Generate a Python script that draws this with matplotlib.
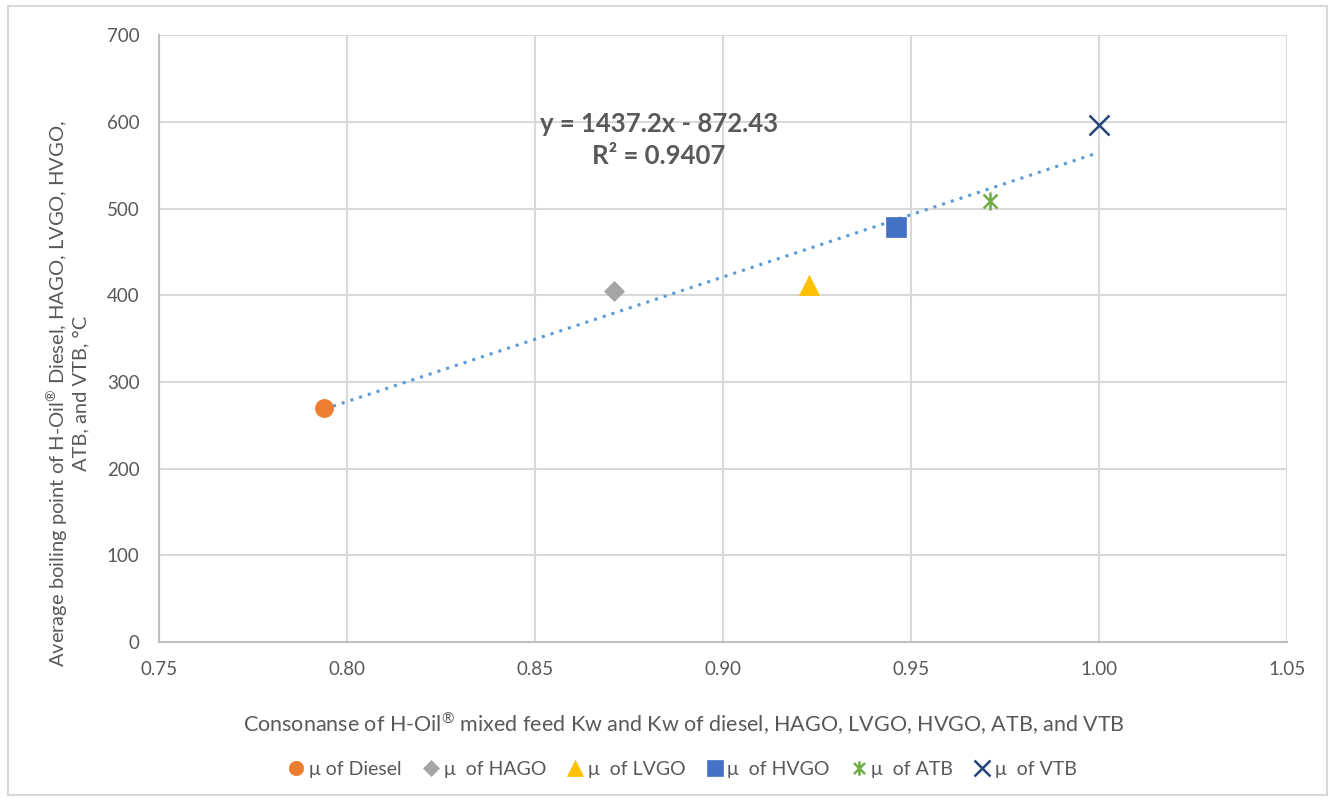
import matplotlib
matplotlib.use("Agg")
import matplotlib.pyplot as plt
import numpy as np
from matplotlib.path import Path
from matplotlib.patches import Rectangle

plt.rcParams['font.family'] = ['Lato', 'DejaVu Sans']
plt.rcParams['mathtext.fontset'] = 'custom'
plt.rcParams['mathtext.rm'] = 'Lato'

# datos: Kw relativo y punto de ebullición medio
etiquetas = ["μ of Diesel", "μ  of HAGO", "μ  of LVGO", "μ  of HVGO", "μ  of ATB", "μ  of VTB"]
kw = [0.794, 0.871, 0.923, 0.946, 0.971, 1.000]
temp = [270, 405, 412, 479, 509, 597]

pendiente = 1437.2
intercepto = -872.43
r2 = 0.9407

colores = ["#ed7d31", "#a5a5a5", "#ffc000", "#4472c4", "#70ad47", "#264478"]
estrella = Path([(-1, -1), (1, 1), (-1, 1), (1, -1), (0, -1.3), (0, 1.3)],
                [Path.MOVETO, Path.LINETO, Path.MOVETO, Path.LINETO, Path.MOVETO, Path.LINETO])
marcadores = ["o", "D", "^", "s", estrella, "x"]
tamanos = [13, 10.5, 14, 14, 13, 15]

gris = "#595959"

fig = plt.figure(figsize=(13.35, 8.01), dpi=100)
ax = fig.add_axes([0.119, 0.1985, 0.845, 0.7575])

# línea de tendencia
xs = np.array([min(kw), max(kw)])
ax.plot(xs, pendiente * xs + intercepto, linestyle=(0, (1, 2)), color="#5b9bd5",
        linewidth=2.2, zorder=2)

for i in range(len(kw)):
    ax.plot(kw[i], temp[i], linestyle="none", marker=marcadores[i], markersize=tamanos[i],
            color=colores[i], markeredgewidth=1.8 if i >= 4 else 0.5,
            label=etiquetas[i], zorder=3)

ax.set_xlim(0.75, 1.05)
ax.set_ylim(0, 700)
ax.set_xticks(np.arange(0.75, 1.051, 0.05))
ax.set_yticks(range(0, 701, 100))
ax.xaxis.set_major_formatter(matplotlib.ticker.FormatStrFormatter('%.2f'))
ax.grid(True, color="#d9d9d9", linewidth=1.5)
ax.set_axisbelow(True)
for lado in ["top", "right"]:
    ax.spines[lado].set_visible(False)
for lado in ["left", "bottom"]:
    ax.spines[lado].set_color("#bfbfbf")
    ax.spines[lado].set_linewidth(1.5)
ax.tick_params(length=0, labelsize=13.5, colors=gris)
ax.tick_params(axis="y", pad=14)
ax.tick_params(axis="x", pad=14)

reg = r"$^{\mathrm{®}}$"
ax.set_xlabel("Consonanse of H-Oil" + reg + " mixed feed Kw and Kw of diesel, HAGO, LVGO, HVGO, ATB, and VTB",
              fontsize=15.5, color=gris)
ax.xaxis.set_label_coords(0.465, -0.113)
ax.set_ylabel("Average boiling point of H-Oil" + reg + " Diesel, HAGO, LVGO, HVGO,\nATB, and VTB, °C",
              fontsize=14.5, color=gris)
ax.yaxis.set_label_coords(-0.0615, 0.409)

ax.text(0.883, 612, "y = 1437.2x - 872.43\nR² = 0.9407", ha="center", va="top",
        fontsize=18.5, fontweight="bold", color=gris, linespacing=1.4)

fig.legend(loc="center", bbox_to_anchor=(0.51, 0.039), ncol=6, frameon=False,
           fontsize=14, labelcolor=gris, handletextpad=0.05, columnspacing=0.9,
           markerscale=0.8, handlelength=1.2)

fig.patches.append(Rectangle((0.006, 0.008), 0.988, 0.984, transform=fig.transFigure,
                             fill=False, edgecolor="#d9d9d9", linewidth=1.5))

fig.savefig("out.png", dpi=100)
